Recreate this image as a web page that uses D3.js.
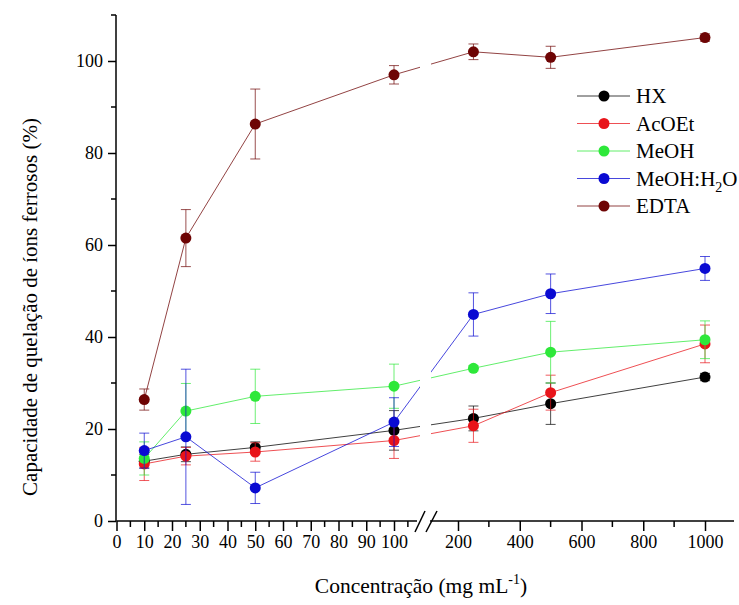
<!DOCTYPE html>
<html>
<head>
<meta charset="utf-8">
<script src="https://cdn.jsdelivr.net/npm/d3@7"></script>
<style>
  html, body { margin: 0; padding: 0; background: #fff; }
  svg { display: block; font-family: "Liberation Serif", "Times New Roman", serif; }
</style>
</head>
<body>
<svg id="chart" width="739" height="605"></svg>
<script>
// Concentrations (mg/mL)
const concentrations = [10, 25, 50, 100, 250, 500, 1000];

// Chelation capacity (%) per extract, with standard deviations
const hx        = [13.0, 14.5, 16.0, 19.7, 22.3, 25.5, 31.3];
const hxErr     = [1.5, 1.6, 1.2, 4.3, 2.7, 4.5, 0.8];
const acoet     = [12.4, 14.1, 15.0, 17.5, 20.7, 27.9, 38.5];
const acoetErr  = [3.6, 1.9, 2.0, 3.9, 3.6, 3.8, 4.1];
const meoh      = [13.6, 23.9, 27.1, 29.3, 33.2, 36.7, 39.4];
const meohErr   = [3.6, 6.0, 5.9, 4.8, 0.6, 6.7, 4.1];
const meohH2o   = [15.3, 18.3, 7.2, 21.5, 44.9, 49.4, 54.9];
const meohH2oErr= [3.8, 14.7, 3.4, 5.3, 4.7, 4.3, 2.6];
const edta      = [26.4, 61.5, 86.3, 97.0, 102.0, 100.8, 105.1];
const edtaErr   = [2.3, 6.2, 7.6, 2.0, 1.7, 2.4, 0.8];

const seriesNames  = ["HX", "AcOEt", "MeOH", "MeOH:H2O", "EDTA"];
const seriesColors = ["#000000", "#e8141a", "#2ee83a", "#0a0ad2", "#6e0404"];
const seriesValues = [hx, acoet, meoh, meohH2o, edta];
const seriesErrors = [hxErr, acoetErr, meohErr, meohH2oErr, edtaErr];

// Axis ticks
const yMajorTicks = [0, 20, 40, 60, 80, 100];
const yMinorTicks = [10, 30, 50, 70, 90, 110];
const xLowMajor = [0, 10, 20, 30, 40, 50, 60, 70, 80, 90, 100];
const xLowMinor = [5, 15, 25, 35, 45, 55, 65, 75, 85, 95, 105];
const xHighMajor = [200, 400, 600, 800, 1000];
const xHighMinor = [300, 500, 700, 900];

const svg = d3.select("#chart");

const y = d3.scaleLinear().domain([0, 110]).range([521, 15]);
// Broken x axis: linear 0-100 segment, then 200-1000 segment
const xLow  = d3.scaleLinear().domain([0, 100]).range([116.5, 394]);
const xHigh = d3.scaleLinear().domain([200, 1000]).range([458, 705]);
const xPos = v => v <= 110 ? xLow(v) : xHigh(v);
const lowEnd = 417, highStart = 430, highEnd = 734;

// Data lines (drawn first, broken at the axis gap)
const line = d3.line().x(d => xPos(d[0])).y(d => y(d[1]));
const plot = svg.append("g");

seriesNames.forEach((name, i) => {
  const pts = concentrations.map((c, j) => [c, seriesValues[i][j]]);
  plot.append("path")
    .attr("d", line(pts))
    .attr("fill", "none")
    .attr("stroke", seriesColors[i])
    .attr("stroke-opacity", 0.75)
    .attr("stroke-width", 1);
});

// Gap in the lines at the axis break
plot.append("rect")
  .attr("x", lowEnd + 3).attr("y", y(110))
  .attr("width", highStart - lowEnd - 2).attr("height", y(0) - y(110) - 2)
  .attr("fill", "#fff");

// Error bars and markers, series by series
seriesNames.forEach((name, i) => {
  const g = plot.append("g");
  concentrations.forEach((c, j) => {
    const v = seriesValues[i][j], e = seriesErrors[i][j];
    const cx = xPos(c);
    const eg = g.append("g")
      .attr("stroke", seriesColors[i])
      .attr("stroke-opacity", 0.7)
      .attr("stroke-width", 1);
    eg.append("line").attr("x1", cx).attr("x2", cx).attr("y1", y(v - e)).attr("y2", y(v + e));
    eg.append("line").attr("x1", cx - 5).attr("x2", cx + 5).attr("y1", y(v - e)).attr("y2", y(v - e));
    eg.append("line").attr("x1", cx - 5).attr("x2", cx + 5).attr("y1", y(v + e)).attr("y2", y(v + e));
  });
  g.selectAll("circle")
    .data(concentrations.map((c, j) => [c, seriesValues[i][j]]))
    .join("circle")
    .attr("cx", d => xPos(d[0]))
    .attr("cy", d => y(d[1]))
    .attr("r", 5.5)
    .attr("fill", seriesColors[i]);
});

// Y axis
const yAxis = svg.append("g").attr("transform", "translate(116,0)");
yAxis.call(d3.axisLeft(y).tickValues(yMajorTicks).tickSize(8).tickPadding(5).tickFormat(d3.format("d")));
yAxis.selectAll("line.minor")
  .data(yMinorTicks).join("line").attr("class", "minor")
  .attr("x1", -5).attr("x2", 0)
  .attr("y1", d => y(d)).attr("y2", d => y(d))
  .attr("stroke", "#000").attr("stroke-width", 1.5);
yAxis.select(".domain").attr("d", `M0,${y(110)}V${y(0)}`).attr("stroke-width", 1.5);
yAxis.selectAll(".tick line").attr("stroke-width", 1.5);
yAxis.selectAll(".tick text").attr("font-size", 18).attr("font-family", "Liberation Serif").attr("fill", "#000");

// X axis, lower segment
const xLowAxis = svg.append("g").attr("transform", `translate(0,${y(0)})`);
xLowAxis.call(d3.axisBottom(xLow).tickValues(xLowMajor).tickSize(10).tickPadding(4).tickFormat(d3.format("d")));
xLowAxis.select(".domain").attr("d", `M${xLow(0)},0H${lowEnd}`).attr("stroke-width", 1.5);
xLowAxis.selectAll("line.minor")
  .data(xLowMinor).join("line").attr("class", "minor")
  .attr("x1", d => xLow(d)).attr("x2", d => xLow(d))
  .attr("y1", 0).attr("y2", 6)
  .attr("stroke", "#000").attr("stroke-width", 1.5);
xLowAxis.selectAll(".tick line").attr("stroke-width", 1.5);
xLowAxis.selectAll(".tick text").attr("font-size", 18).attr("font-family", "Liberation Serif").attr("fill", "#000");

// X axis, upper segment
const xHighAxis = svg.append("g").attr("transform", `translate(0,${y(0)})`);
xHighAxis.call(d3.axisBottom(xHigh).tickValues(xHighMajor).tickSize(10).tickPadding(4).tickFormat(d3.format("d")));
xHighAxis.select(".domain").attr("d", `M${highStart},0H${highEnd}`).attr("stroke-width", 1.5);
xHighAxis.selectAll("line.minor")
  .data(xHighMinor).join("line").attr("class", "minor")
  .attr("x1", d => xHigh(d)).attr("x2", d => xHigh(d))
  .attr("y1", 0).attr("y2", 6)
  .attr("stroke", "#000").attr("stroke-width", 1.5);
xHighAxis.selectAll(".tick line").attr("stroke-width", 1.5);
xHighAxis.selectAll(".tick text").attr("font-size", 18).attr("font-family", "Liberation Serif").attr("fill", "#000");

// Break marks on the x axis
const breakG = svg.append("g").attr("transform", `translate(0,${y(0)})`)
  .attr("stroke", "#000").attr("stroke-width", 1.5);
[[lowEnd - 2, lowEnd + 8], [lowEnd + 9, lowEnd + 20]].forEach(([a, b]) => {
  breakG.append("line").attr("x1", a).attr("y1", 11).attr("x2", b).attr("y2", -10);
});

// Axis titles
const xTitle = svg.append("text")
  .attr("x", 421).attr("y", 593)
  .attr("text-anchor", "middle")
  .attr("font-size", 21.5).attr("fill", "#000");
xTitle.append("tspan").text("Concentração (mg mL");
xTitle.append("tspan").attr("font-size", 14).attr("dy", -9).text("-1");
xTitle.append("tspan").attr("dy", 9).text(")");

svg.append("text")
  .attr("transform", "translate(37,307) rotate(-90)")
  .attr("text-anchor", "middle")
  .attr("font-size", 21).attr("fill", "#000")
  .text("Capacidade de quelação de íons ferrosos (%)");

// Legend
const legend = svg.append("g");
seriesNames.forEach((name, i) => {
  const ly = 96 + i * 27.5;
  legend.append("line")
    .attr("x1", 577).attr("x2", 630).attr("y1", ly).attr("y2", ly)
    .attr("stroke", seriesColors[i]).attr("stroke-opacity", 0.75).attr("stroke-width", 1);
  legend.append("circle").attr("cx", 604).attr("cy", ly).attr("r", 5.5).attr("fill", seriesColors[i]);
  const t = legend.append("text")
    .attr("x", 636).attr("y", ly + 7)
    .attr("font-size", 21).attr("fill", "#000");
  if (name === "MeOH:H2O") {
    t.append("tspan").text("MeOH:H");
    t.append("tspan").attr("font-size", 14).attr("dy", 6).text("2");
    t.append("tspan").attr("dy", -6).text("O");
  } else {
    t.text(name);
  }
});
</script>
</body>
</html>
